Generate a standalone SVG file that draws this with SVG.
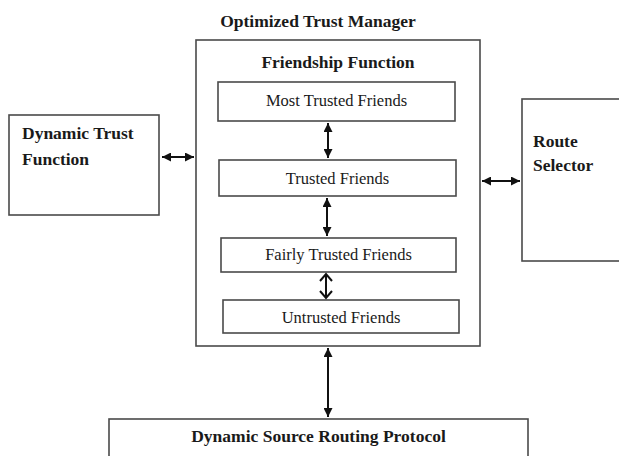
<svg xmlns="http://www.w3.org/2000/svg" width="619" height="456" viewBox="0 0 619 456">
<style>
.box{fill:#fff;stroke:#4a4a4a;stroke-width:1.6}
.b{font-family:"Liberation Serif",serif;font-weight:bold;font-size:17.5px;fill:#1a1a1a}
.r{font-family:"Liberation Serif",serif;font-size:16.5px;fill:#1a1a1a;text-anchor:middle}
.c{stroke:#111;stroke-width:2;fill:none}
</style>
<defs>
<marker id="ah" viewBox="0 0 10 10" refX="10" refY="5" markerWidth="4.5" markerHeight="4.5" orient="auto-start-reverse" markerUnits="strokeWidth">
<path d="M0,0 L10,5 L0,10 z" fill="#111"/>
</marker>
</defs>
<rect width="619" height="456" fill="#fff"/>
<g id="optimized-trust-manager">
<text class="b" x="318" y="27" text-anchor="middle">Optimized Trust Manager</text>
<rect class="box" x="196" y="40" width="284" height="306"/>
<text class="b" x="338" y="68" text-anchor="middle">Friendship Function</text>
</g>
<g id="most-trusted">
<rect class="box" x="218" y="82" width="237" height="39"/>
<text class="r" x="336.5" y="106">Most Trusted Friends</text>
</g>
<g id="trusted">
<rect class="box" x="219" y="160" width="237" height="36"/>
<text class="r" x="337.5" y="184">Trusted Friends</text>
</g>
<g id="fairly-trusted">
<rect class="box" x="221" y="238" width="235" height="34"/>
<text class="r" x="338.5" y="260">Fairly Trusted Friends</text>
</g>
<g id="untrusted">
<rect class="box" x="223" y="300" width="236" height="33"/>
<text class="r" x="341" y="323">Untrusted Friends</text>
</g>
<g id="dynamic-trust-function">
<rect class="box" x="9" y="115" width="150" height="100"/>
<text class="b" x="22" y="139">Dynamic Trust</text>
<text class="b" x="22" y="165">Function</text>
</g>
<g id="route-selector">
<rect class="box" x="522" y="99" width="110" height="162"/>
<text class="b" x="533" y="147">Route</text>
<text class="b" x="533" y="171">Selector</text>
</g>
<g id="dsr">
<rect class="box" x="109" y="419" width="419" height="50"/>
<text class="b" x="318.5" y="442" text-anchor="middle">Dynamic Source Routing Protocol</text>
</g>
<g id="connectors">
<line class="c" x1="162" y1="157" x2="194" y2="157" marker-start="url(#ah)" marker-end="url(#ah)"/>
<line class="c" x1="482" y1="181" x2="520" y2="181" marker-start="url(#ah)" marker-end="url(#ah)"/>
<line class="c" x1="328" y1="123" x2="328" y2="158" marker-start="url(#ah)" marker-end="url(#ah)"/>
<line class="c" x1="327" y1="198" x2="327" y2="236" marker-start="url(#ah)" marker-end="url(#ah)"/>
<line class="c" x1="326" y1="274" x2="326" y2="298"/>
<polyline class="c" points="320,281 326,274 332,281"/>
<polyline class="c" points="320,291 326,298 332,291"/>
<line class="c" x1="328" y1="348" x2="328" y2="417" marker-start="url(#ah)" marker-end="url(#ah)"/>
</g>
</svg>
